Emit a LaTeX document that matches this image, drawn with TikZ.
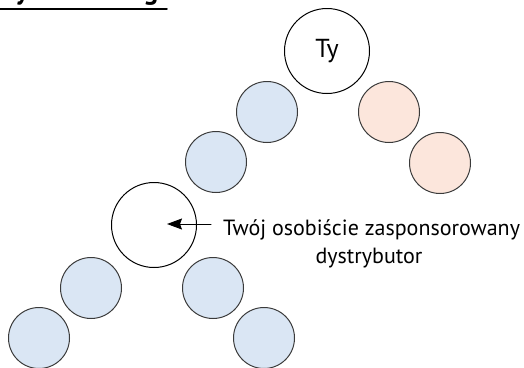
\documentclass[tikz,border=0pt]{standalone}
\usepackage{fontspec}
\setmainfont{PT Sans}
\usetikzlibrary{arrows.meta,positioning}
\definecolor{kolBlue}{HTML}{DAE6F4}
\definecolor{kolPink}{HTML}{FCE6DC}
\definecolor{kolEdge}{HTML}{3A3A3A}
\begin{document}
\begin{tikzpicture}[x=1pt,y=-1pt,line join=round,line cap=round,>={Stealth[length=15pt,width=11pt,inset=2pt]},
  kolo/.style={circle,draw=kolEdge,line width=1pt,minimum size=61pt,inner sep=0pt},
  duze/.style={kolo,draw=black,fill=white,minimum size=85pt},
  opis/.style={font=\fontsize{22}{28}\selectfont,inner sep=0pt}]
\useasboundingbox (0,0) rectangle (524,367);
\clip (0,0) rectangle (524,367);
% title runs off the top edge, only the descenders stay
\foreach \x/\l in {22/y,151/g}{\node[anchor=base,inner sep=0pt,font=\bfseries\fontsize{28}{30}\selectfont] (t\l) at (\x,-1) {\l};}
\draw[line width=1.5pt] (0,9) -- (167,9);
% sponsor and the two legs
\node[duze,font=\fontsize{26}{30}\selectfont] (ty) at (327,51) {Ty};
\foreach \n/\x/\y in {p1/389/112,p2/440/163}{\node[kolo,fill=kolPink] (\n) at (\x,\y) {};}
\foreach \n/\x/\y in {b1/267/112,b2/216/162,b3/91/288,b4/39/338,b5/213/288,b6/264/338}{\node[kolo,fill=kolBlue] (\n) at (\x,\y) {};}
\node[duze] (dyst) at (154,225) {};
\coordinate (tip) at (167,224);
% label with arrow
\node[opis,anchor=base west] (opis1) at (223,235) {Twój osobiście zasponsorowany};
\node[opis,anchor=base] (opis2) at (369,263) {dystrybutor};
\draw[->,line width=1pt] ([shift={(-12,-11)}]opis1.base west) -- (tip);
\end{tikzpicture}
\end{document}
